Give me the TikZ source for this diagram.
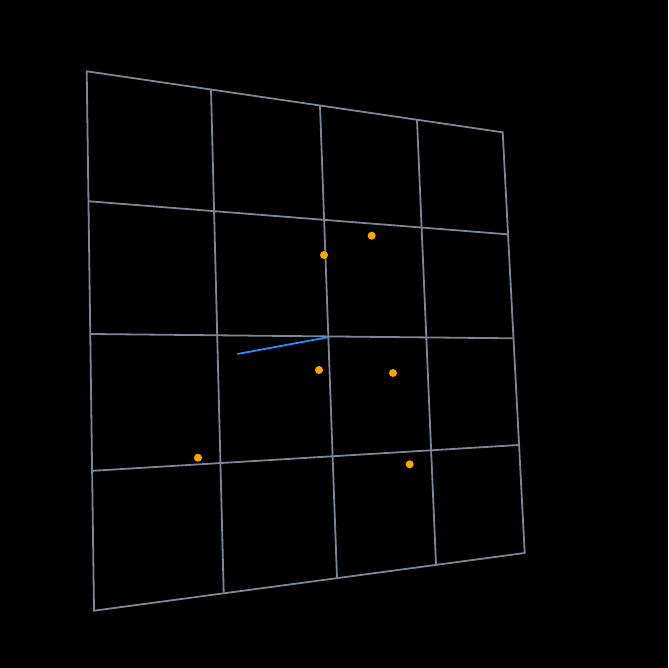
\documentclass[tikz,border=0pt]{standalone}
\definecolor{gridc}{HTML}{778899}
\definecolor{bluec}{HTML}{1E90FF}
\definecolor{orangec}{HTML}{FFA500}
\begin{document}
\begin{tikzpicture}[x=1pt,y=-1pt,
  gridline/.style={draw=gridc,line width=1.8pt,line join=miter},
  dot/.style={circle,fill=orangec,inner sep=0pt,minimum size=8pt},
  ray/.style={draw=bluec,line width=1.8pt}]
\fill[black] (0,0) rectangle (668,668);
\useasboundingbox (0,0) rectangle (668,668);
% corners
\coordinate (tl) at (86.7,71.3);
\coordinate (tr) at (502.7,132.3);
\coordinate (br) at (524.7,553);
\coordinate (bl) at (94,610.7);
% vertical edge points
\coordinate (t1) at (211,89.5);
\coordinate (t2) at (320,105.5);
\coordinate (t3) at (417,119.9);
\coordinate (b1) at (223.7,592.7);
\coordinate (b2) at (337,578.3);
\coordinate (b3) at (436,564.3);
% horizontal edge points
\coordinate (l1) at (89.2,201.3);
\coordinate (l2) at (90.9,334);
\coordinate (l3) at (92.6,470.8);
\coordinate (r1) at (507.3,234.3);
\coordinate (r2) at (512.6,338.3);
\coordinate (r3) at (518.5,445);
\draw[gridline] (tl) -- (tr) -- (br) -- (bl) -- cycle;
\draw[gridline] (t1) -- (b1);
\draw[gridline] (t2) -- (b2);
\draw[gridline] (t3) -- (b3);
\draw[gridline] (l1) -- (r1);
\draw[gridline] (l2) -- (r2);
\draw[gridline] (l3) -- (r3);
% blue segment
\coordinate (s0) at (237.3,354);
\coordinate (s1) at (327.7,337.3);
\draw[ray] (s0) -- (s1);
% orange points
\node[dot] (p1) at (371.7,235.7) {};
\node[dot] (p2) at (324,255) {};
\node[dot] (p3) at (319,370) {};
\node[dot] (p4) at (393,373) {};
\node[dot] (p5) at (198,457.7) {};
\node[dot] (p6) at (409.7,464.3) {};
\end{tikzpicture}
\end{document}
